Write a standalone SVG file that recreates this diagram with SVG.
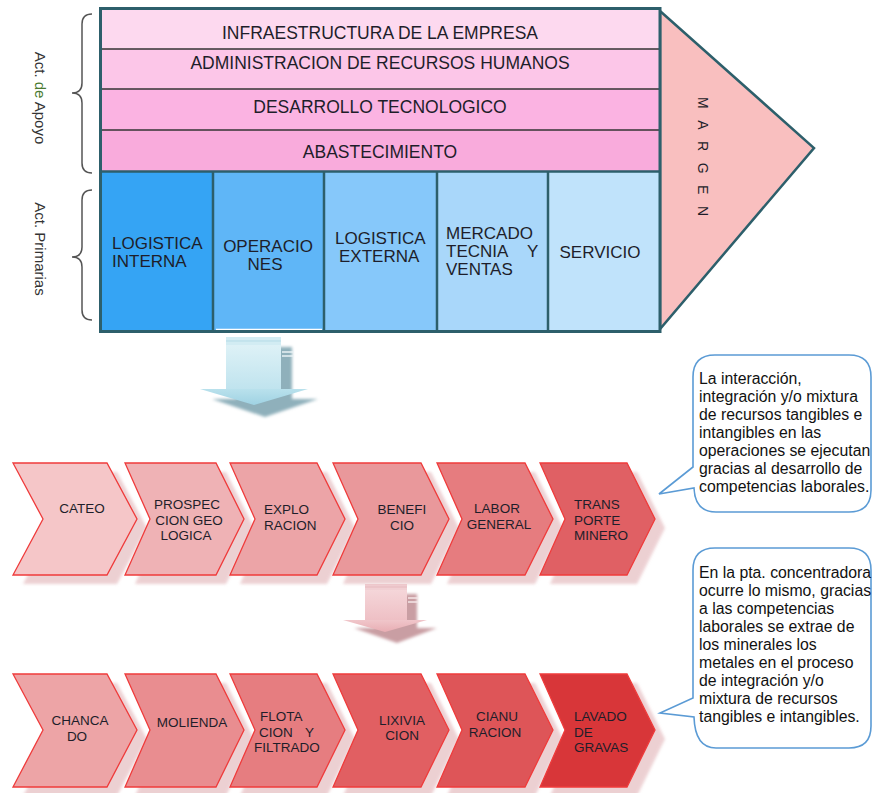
<svg xmlns="http://www.w3.org/2000/svg" width="873" height="793" viewBox="0 0 873 793">
<defs>
<style>
text{font-family:"Liberation Sans",Arial,sans-serif;fill:#1e1e2a}
.sup{font-size:17.5px;text-anchor:middle}
.pri{font-size:17px}
.ct{font-size:13.5px}
.m{text-anchor:middle}
.call{font-size:15.8px;fill:#111}
.side{font-size:15px;text-anchor:middle;fill:#333}
.chev{stroke:#ef3b3b;stroke-width:1.3}
.shd{fill:#dba3a7;opacity:.5}
.bub{fill:#fff;stroke:#5b9bd5;stroke-width:1.6}
.brace{fill:none;stroke:#555;stroke-width:1.5}
.div{stroke:#2d5f6b;stroke-width:2.5}
.rdiv{stroke:#333;stroke-width:1.5}
</style>
<filter id="blur" x="-10%" y="-10%" width="120%" height="120%"><feGaussianBlur stdDeviation="1.5"/></filter>
<linearGradient id="gBlue" x1="0" y1="0" x2="0" y2="1"><stop offset="0" stop-color="#e3f4f8"/><stop offset="1" stop-color="#bfe3ee"/></linearGradient>
<linearGradient id="gBlueHead" x1="0" y1="0" x2="0" y2="1"><stop offset="0" stop-color="#b9e1ec"/><stop offset="1" stop-color="#9fd2e3"/></linearGradient>
<linearGradient id="gPink" x1="0" y1="0" x2="0" y2="1"><stop offset="0" stop-color="#f6dadd"/><stop offset="1" stop-color="#eebfc4"/></linearGradient>
<linearGradient id="gPinkHead" x1="0" y1="0" x2="0" y2="1"><stop offset="0" stop-color="#f0c6ca"/><stop offset="1" stop-color="#e8adb3"/></linearGradient>
</defs>

<!-- side labels and braces -->
<g id="label-apoyo">
<path class="brace" d="M92,14 Q82,14 82,24 L82,83 Q82,93 72,93 Q82,93 82,103 L82,163 Q82,173 92,173"/>
<text class="side" transform="translate(35,98) rotate(90)">Act. <tspan fill="#4a7a30">de</tspan> Apoyo</text>
</g>
<g id="label-primarias">
<path class="brace" d="M92,190 Q82,190 82,200 L82,247 Q82,257 72,257 Q82,257 82,267 L82,310 Q82,320 92,320"/>
<text class="side" transform="translate(35,249) rotate(90)">Act. Primarias</text>
</g>

<!-- margin -->
<g id="margen">
<path d="M660,11 L814,148 L660,329 Z" fill="#f9bfbf" stroke="#2d5f6b" stroke-width="2.5" stroke-linejoin="miter"/>
<text transform="translate(698,97) rotate(90)" font-size="14" textLength="119" lengthAdjust="spacing">MARGEN</text>
</g>

<!-- support activities -->
<g id="infraestructura">
<rect x="100" y="9" width="560" height="40" fill="#fdd9ef"/>
<text class="sup" x="380" y="39">INFRAESTRUCTURA DE LA EMPRESA</text>
</g>
<g id="rrhh">
<rect x="100" y="49" width="560" height="40" fill="#fcc6e8"/>
<text class="sup" x="380" y="69">ADMINISTRACION DE RECURSOS HUMANOS</text>
</g>
<g id="desarrollo">
<rect x="100" y="89" width="560" height="41" fill="#fbb3e2"/>
<text class="sup" x="380" y="113">DESARROLLO TECNOLOGICO</text>
</g>
<g id="abastecimiento">
<rect x="100" y="130" width="560" height="41" fill="#f9abdc"/>
<text class="sup" x="380" y="158">ABASTECIMIENTO</text>
</g>

<!-- primary activities -->
<g id="logistica-interna">
<rect x="100" y="172" width="113" height="160" fill="#35a4f4"/>
<text class="pri" x="112" y="249">LOGISTICA</text>
<text class="pri" x="112" y="267">INTERNA</text>
</g>
<g id="operaciones">
<rect x="213" y="172" width="111" height="160" fill="#5fb6f7"/>
<line x1="216" y1="329.5" x2="322" y2="329.5" stroke="#fff" stroke-width="1.6"/>
<text class="pri m" x="268" y="252">OPERACIO</text>
<text class="pri m" x="265" y="270">NES</text>
</g>
<g id="logistica-externa">
<rect x="324" y="172" width="113" height="160" fill="#86c8fa"/>
<text class="pri" x="335" y="244">LOGISTICA</text>
<text class="pri" x="339" y="262">EXTERNA</text>
</g>
<g id="mercadotecnia">
<rect x="437" y="172" width="111" height="160" fill="#a9d7fa"/>
<text class="pri" x="446" y="239">MERCADO</text>
<text class="pri" x="446" y="257">TECNIA<tspan x="527">Y</tspan></text>
<text class="pri" x="446" y="275">VENTAS</text>
</g>
<g id="servicio">
<rect x="548" y="172" width="112" height="160" fill="#c0e3fb"/>
<text class="pri m" x="600" y="258">SERVICIO</text>
</g>

<!-- frame lines -->
<g id="frame">
<line class="rdiv" x1="100" y1="49" x2="660" y2="49"/>
<line class="rdiv" x1="100" y1="89" x2="660" y2="89"/>
<line class="rdiv" x1="100" y1="130" x2="660" y2="130"/>
<line class="div" x1="100" y1="171.5" x2="660" y2="171.5"/>
<line class="div" x1="213" y1="172" x2="213" y2="332"/>
<line class="div" x1="324" y1="172" x2="324" y2="332"/>
<line class="div" x1="437" y1="172" x2="437" y2="332"/>
<line class="div" x1="548" y1="172" x2="548" y2="332"/>
<rect x="100.5" y="8.5" width="559.5" height="323" fill="none" stroke="#2d5f6b" stroke-width="3"/>
</g>

<!-- connectors: big down arrows -->
<g id="connectors">
<g id="arrow-1">
<path d="M236,347 H292 V399 H318 L265,417 L212,399 H236 Z" fill="#8fb0bb" filter="url(#blur)"/>
<line x1="282" y1="352" x2="293" y2="352" stroke="#e8f2f4" stroke-width="1.5"/>
<line x1="282" y1="356" x2="293" y2="356" stroke="#e8f2f4" stroke-width="1.5"/>
<rect x="226" y="337" width="55" height="53" fill="url(#gBlue)"/>
<rect x="226" y="337" width="55" height="8" fill="#d2ecf3"/>
<line x1="226" y1="341" x2="281" y2="341" stroke="#b5dbe7" stroke-width="1"/>
<path d="M200,389 H308 L254,405 Z" fill="url(#gBlueHead)"/>
</g>
<g id="arrow-2">
<path d="M375,594 H417 V628 H437 L397,643 L354,628 H375 Z" fill="#c99ea3" filter="url(#blur)"/>
<line x1="408" y1="598" x2="418" y2="598" stroke="#f4e6e7" stroke-width="1.5"/>
<line x1="408" y1="602" x2="418" y2="602" stroke="#f4e6e7" stroke-width="1.5"/>
<rect x="365" y="584" width="42" height="37" fill="url(#gPink)"/>
<rect x="365" y="584" width="42" height="6" fill="#f1cfd3"/>
<line x1="365" y1="587" x2="407" y2="587" stroke="#e5b9be" stroke-width="1"/>
<path d="M343,620 H427 L385,632 Z" fill="url(#gPinkHead)"/>
</g>
</g>

<!-- chevron shadows -->
<g id="chevron-shadows" class="shd" filter="url(#blur)" transform="translate(10,9)">
<path d="M13,463 L107,463 L137,519 L107,575 L13,575 L43,519 Z"/>
<path d="M125,463 L216,463 L244,519 L216,575 L125,575 L150,519 Z"/>
<path d="M230,463 L317,463 L345,519 L317,575 L230,575 L255,519 Z"/>
<path d="M333,463 L421,463 L449,519 L421,575 L333,575 L358,519 Z"/>
<path d="M437,463 L525,463 L553,519 L525,575 L437,575 L462,519 Z"/>
<path d="M540,463 L627,463 L655,519 L627,575 L540,575 L565,519 Z"/>
<path d="M13,674 L107,674 L137,730 L107,787 L13,787 L43,730 Z"/>
<path d="M125,674 L216,674 L244,730 L216,787 L125,787 L150,730 Z"/>
<path d="M230,674 L317,674 L345,730 L317,787 L230,787 L255,730 Z"/>
<path d="M333,674 L421,674 L449,730 L421,787 L333,787 L358,730 Z"/>
<path d="M437,674 L525,674 L553,730 L525,787 L437,787 L462,730 Z"/>
<path d="M540,674 L627,674 L655,730 L627,787 L540,787 L565,730 Z"/>
</g>

<!-- row 1 chevrons -->
<g id="cateo">
<path class="chev" fill="#f5c6c8" d="M13,463 L107,463 L137,519 L107,575 L13,575 L43,519 Z"/>
<text class="ct m" x="82" y="513">CATEO</text>
</g>
<g id="prospeccion">
<path class="chev" fill="#efb2b5" d="M125,463 L216,463 L244,519 L216,575 L125,575 L150,519 Z"/>
<text class="ct m" x="187" y="509">PROSPEC</text>
<text class="ct m" x="189" y="524.5">CION GEO</text>
<text class="ct m" x="186" y="540">LOGICA</text>
</g>
<g id="exploracion">
<path class="chev" fill="#eca4a7" d="M230,463 L317,463 L345,519 L317,575 L230,575 L255,519 Z"/>
<text class="ct" x="264" y="514">EXPLO</text>
<text class="ct" x="264" y="529.5">RACION</text>
</g>
<g id="beneficio">
<path class="chev" fill="#e9989b" d="M333,463 L421,463 L449,519 L421,575 L333,575 L358,519 Z"/>
<text class="ct m" x="402" y="514">BENEFI</text>
<text class="ct m" x="402" y="529.5">CIO</text>
</g>
<g id="labor-general">
<path class="chev" fill="#e67c7f" d="M437,463 L525,463 L553,519 L525,575 L437,575 L462,519 Z"/>
<text class="ct m" x="497" y="513">LABOR</text>
<text class="ct m" x="499" y="528.5">GENERAL</text>
</g>
<g id="transporte-minero">
<path class="chev" fill="#e06064" d="M540,463 L627,463 L655,519 L627,575 L540,575 L565,519 Z"/>
<text class="ct" x="574" y="509">TRANS</text>
<text class="ct" x="574" y="524.5">PORTE</text>
<text class="ct" x="574" y="540">MINERO</text>
</g>

<!-- row 2 chevrons -->
<g id="chancado">
<path class="chev" fill="#eda4a6" d="M13,674 L107,674 L137,730 L107,787 L13,787 L43,730 Z"/>
<text class="ct m" x="80" y="725">CHANCA</text>
<text class="ct m" x="77" y="740.5">DO</text>
</g>
<g id="molienda">
<path class="chev" fill="#e98d90" d="M125,674 L216,674 L244,730 L216,787 L125,787 L150,730 Z"/>
<text class="ct m" x="192" y="727">MOLIENDA</text>
</g>
<g id="flotacion">
<path class="chev" fill="#e67d80" d="M230,674 L317,674 L345,730 L317,787 L230,787 L255,730 Z"/>
<text class="ct" x="260" y="721">FLOTA</text>
<text class="ct" x="259" y="736.5">CION<tspan x="305">Y</tspan></text>
<text class="ct" x="254" y="752">FILTRADO</text>
</g>
<g id="lixiviacion">
<path class="chev" fill="#e15f62" d="M333,674 L421,674 L449,730 L421,787 L333,787 L358,730 Z"/>
<text class="ct m" x="402" y="724.5">LIXIVIA</text>
<text class="ct m" x="402" y="740">CION</text>
</g>
<g id="cianuracion">
<path class="chev" fill="#de5558" d="M437,674 L525,674 L553,730 L525,787 L437,787 L462,730 Z"/>
<text class="ct m" x="497" y="721">CIANU</text>
<text class="ct m" x="495" y="736.5">RACION</text>
</g>
<g id="lavado-gravas">
<path class="chev" fill="#d83639" d="M540,674 L627,674 L655,730 L627,787 L540,787 L565,730 Z"/>
<text class="ct" x="574" y="721">LAVADO</text>
<text class="ct" x="574" y="736.5">DE</text>
<text class="ct" x="574" y="752">GRAVAS</text>
</g>

<!-- callouts -->
<g id="callout-1">
<path class="bub" d="M715,355 H849 Q871,355 871,377 V490 Q871,512 849,512 H716 Q695,512 694,488 L659,494 L693,467 V377 Q693,355 715,355 Z"/>
<text class="call" x="699" y="384">La interacción,</text>
<text class="call" x="699" y="402">integración y/o mixtura</text>
<text class="call" x="699" y="420">de recursos tangibles e</text>
<text class="call" x="699" y="438">intangibles en las</text>
<text class="call" x="699" y="456">operaciones se ejecutan</text>
<text class="call" x="699" y="474">gracias al desarrollo de</text>
<text class="call" x="699" y="492">competencias laborales.</text>
</g>
<g id="callout-2">
<path class="bub" d="M715,548 H849 Q871,548 871,570 V726 Q871,748 849,748 H716 Q695,748 694,717 L660,713 L693,698 V570 Q693,548 715,548 Z"/>
<text class="call" x="699" y="578">En la pta. concentradora</text>
<text class="call" x="699" y="596">ocurre lo mismo, gracias</text>
<text class="call" x="699" y="614">a las competencias</text>
<text class="call" x="699" y="632">laborales se extrae de</text>
<text class="call" x="699" y="650">los minerales los</text>
<text class="call" x="699" y="668">metales en el proceso</text>
<text class="call" x="699" y="686">de integración y/o</text>
<text class="call" x="699" y="704">mixtura de recursos</text>
<text class="call" x="699" y="722">tangibles e intangibles.</text>
</g>
</svg>
